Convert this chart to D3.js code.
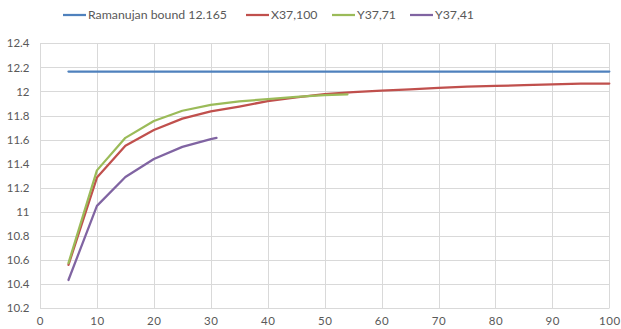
<!DOCTYPE html>
<html><head><meta charset="utf-8">
<script src="https://cdn.jsdelivr.net/npm/d3@7"></script>
<style>body{margin:0;background:#fff}svg{display:block}text{font-family:Lato,"Open Sans",sans-serif;fill:#595959}</style>
</head><body>
<script>
const xTicks = [0,10,20,30,40,50,60,70,80,90,100];
const yTicks = [10.2,10.4,10.6,10.8,11,11.2,11.4,11.6,11.8,12,12.2,12.4];
const seriesNames = ["Ramanujan bound 12.165","X37,100","Y37,71","Y37,41"];
const seriesColors = ["#4F81BD","#C0504D","#9BBB59","#8064A2"];
const boundX = [5,100];
const boundY = [12.165,12.165];
const x37X = [5,10,15,20,25,30,35,40,45,50,55,60,65,70,75,80,85,90,95,100];
const x37Y = [10.56,11.285,11.55,11.68,11.775,11.835,11.875,11.92,11.952,11.978,11.995,12.008,12.017,12.03,12.04,12.047,12.052,12.058,12.066,12.066];
const y71X = [5,10,15,20,25,30,35,40,45,50,54];
const y71Y = [10.575,11.345,11.615,11.755,11.84,11.888,11.918,11.937,11.956,11.97,11.975];
const y41X = [5,10,15,20,25,30,31];
const y41Y = [10.435,11.05,11.29,11.44,11.54,11.605,11.615];

const W=621,H=329;
const svg=d3.select("body").append("svg").attr("width",W).attr("height",H);
const x=d3.scaleLinear().domain([0,100]).range([40,609.3]);
const y=d3.scaleLinear().domain([10.2,12.4]).range([308.3,43.3]);

// grid
svg.append("g").selectAll("line").data(yTicks).join("line")
  .attr("x1",x(0)).attr("x2",x(100)).attr("y1",d=>Math.round(y(d))+0.5).attr("y2",d=>Math.round(y(d))+0.5)
  .attr("stroke","#d9d9d9").attr("stroke-width",1);
svg.append("g").selectAll("line").data(xTicks).join("line")
  .attr("y1",y(10.2)).attr("y2",y(12.4)).attr("x1",d=>Math.round(x(d))+0.5).attr("x2",d=>Math.round(x(d))+0.5)
  .attr("stroke","#d9d9d9").attr("stroke-width",1);

// axes labels
const yAxis=d3.axisLeft(y).tickValues(yTicks).tickSize(0).tickPadding(10.5).tickFormat(d=>d3.format("")(+d.toFixed(1)));
const gy=svg.append("g").attr("transform",`translate(${x(0)},0)`).call(yAxis);
gy.select(".domain").remove();
gy.selectAll("text").style("font-size","11.5px").attr("fill","#595959");
const xAxis=d3.axisBottom(x).tickValues(xTicks).tickSize(0).tickPadding(9);
const gx=svg.append("g").attr("transform",`translate(0,${y(10.2)})`).call(xAxis);
gx.select(".domain").remove();
gx.selectAll("text").style("font-size","11.5px").style("letter-spacing","0.6px").attr("fill","#595959");

// lines
const line=d3.line().x(d=>x(d[0])).y(d=>y(d[1]));
const data=[d3.zip(boundX,boundY),d3.zip(x37X,x37Y),d3.zip(y71X,y71Y),d3.zip(y41X,y41Y)];
svg.append("g").selectAll("path").data(data).join("path")
  .attr("d",line).attr("fill","none").attr("stroke",(d,i)=>seriesColors[i])
  .attr("stroke-width",2.25).attr("stroke-linejoin","round").attr("stroke-linecap","round");

// legend
const legX=[63,246,332,410];
const lg=svg.append("g").selectAll("g").data(seriesNames).join("g")
  .attr("transform",(d,i)=>`translate(${legX[i]},15)`);
lg.append("line").attr("x1",0).attr("x2",23).attr("stroke",(d,i)=>seriesColors[i]).attr("stroke-width",2.25);
lg.append("text").attr("x",25).attr("dy","0.35em").style("font-size","12.3px").text(d=>d);
</script>
</body></html>
